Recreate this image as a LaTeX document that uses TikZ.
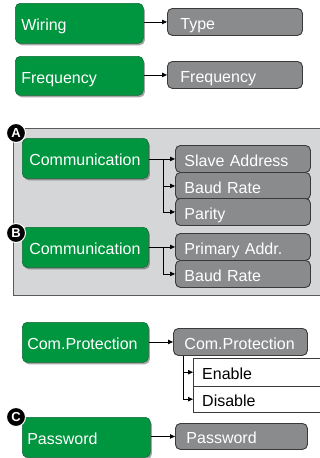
\documentclass[tikz,border=0pt]{standalone}
\usepackage{fontspec}
\setmainfont{Liberation Sans}
\usetikzlibrary{shadows,arrows.meta}
\definecolor{grn}{HTML}{00963F}
\definecolor{grnd}{HTML}{0B6A33}
\definecolor{gbx}{HTML}{8A8B8D}
\definecolor{gbd}{HTML}{3A3A3A}
\definecolor{pnl}{HTML}{D5D6D8}
\definecolor{pnlb}{HTML}{5A5A5A}
\tikzset{
  base/.style={anchor=north west, inner ysep=0pt, align=left, text height=15pt, text depth=0pt,
    font=\fontsize{16}{18}\selectfont},
  gbox/.style={base, rounded corners=5pt, fill=grn, draw=grnd, line width=0.6pt, text=white,
    drop shadow={shadow xshift=1.5pt, shadow yshift=-2pt, opacity=0.35, fill=black}},
  ybox/.style={base, rounded corners=5pt, fill=gbx, draw=gbd, line width=0.9pt, text=white},
  wbox/.style={base, fill=white, text=black},
  badge/.style={circle, fill=black, draw=white, line width=1pt, minimum size=19pt, inner sep=0pt,
    text=white, font=\fontsize{13}{13}\bfseries\selectfont},
  arr/.style={line width=0.8pt, -{Triangle[length=5pt,width=4.5pt]}},
  ln/.style={line width=0.8pt},
}
\begin{document}
\begin{tikzpicture}[x=1pt,y=-1pt]
\useasboundingbox (0,0) rectangle (320,458);
% panel
\fill[pnl] (13,128) rectangle (320,295);
\draw[pnlb, line width=0.9pt] (320,128) -- (13,128) -- (13,295) -- (320,295);

% Wiring / Type
\node[gbox, minimum height=40pt, text width=116pt, inner xsep=6pt] (wiring) at (15,3) {Wiring};
\node[ybox, minimum height=27pt, text width=109pt, inner xsep=13pt] (type) at (167,8) {Type};
\draw[arr] (wiring.east |- type.west) -- (type.west);

% Frequency
\node[gbox, minimum height=39pt, text width=116pt, inner xsep=6pt] (freqg) at (15,56) {Frequency};
\node[ybox, minimum height=27pt, text width=109pt, inner xsep=13pt] (freqy) at (167,61) {Frequency};
\draw[arr] (freqg.east |- freqy.west) -- (freqy.west);

% Communication A
\node[gbox, minimum height=40pt, text width=112pt, inner xsep=7pt] (comma) at (22,138) {Communication};
\node[ybox, minimum height=27pt, text width=117pt, inner xsep=9pt] (slave) at (175,145) {Slave Address};
\node[ybox, minimum height=27pt, text width=117pt, inner xsep=9pt] (bauda) at (175,172) {Baud Rate};
\node[ybox, minimum height=27pt, text width=117pt, inner xsep=9pt] (parity) at (175,198) {Parity};
\coordinate (bra) at ([xshift=-12pt]slave.west);
\draw[arr] (comma.east |- slave.west) -- (slave.west);
\draw[ln] (bra) -- (bra |- parity.west);
\draw[arr] (bra |- bauda.west) -- (bauda.west);
\draw[arr] (bra |- parity.west) -- (parity.west);
\node[badge] (A) at (16,133) {A};

% Communication B
\node[gbox, minimum height=40pt, text width=112pt, inner xsep=7pt] (commb) at (22,227) {Communication};
\node[ybox, minimum height=27pt, text width=117pt, inner xsep=9pt] (primary) at (175,233) {Primary Addr.};
\node[ybox, minimum height=27pt, text width=117pt, inner xsep=9pt] (baudb) at (175,260) {Baud Rate};
\coordinate (brb) at ([xshift=-12pt]primary.west);
\draw[arr] (commb.east |- primary.west) -- (primary.west);
\draw[ln] (brb) -- (brb |- baudb.west);
\draw[arr] (brb |- baudb.west) -- (baudb.west);
\node[badge] (B) at (16,233) {B};

% Com.Protection
\node[gbox, minimum height=40pt, text width=116pt, inner xsep=5pt] (cpg) at (22,322) {Com.Protection};
\node[ybox, minimum height=27pt, text width=112pt, inner xsep=11pt] (cpy) at (173,328) {Com.Protection};
\draw[arr] (cpg.east |- cpy.west) -- (cpy.west);
\node[wbox, minimum height=28pt, text width=109pt, inner xsep=9pt] (enable) at (193,358) {Enable};
\node[wbox, minimum height=26pt, text width=109pt, inner xsep=9pt] (disable) at (193,386) {Disable};
\draw[gbd, line width=0.9pt] (enable.north east) -- (enable.north west) -- (disable.south west) -- (disable.south east);
\draw[gbd, line width=0.9pt] (enable.south west) -- (enable.south east);
\coordinate (brc) at ([xshift=10pt]cpy.south west);
\draw[ln] (brc) -- (brc |- disable.west);
\draw[arr] (brc |- enable.west) -- (enable.west);
\draw[arr] (brc |- disable.west) -- (disable.west);

% Password
\node[gbox, minimum height=40pt, text width=118pt, inner xsep=5pt] (pwg) at (22,417) {Password};
\node[ybox, minimum height=26pt, text width=110pt, inner xsep=11pt] (pwy) at (175,423) {Password};
\draw[arr] (pwg.east |- pwy.west) -- (pwy.west);
\node[badge] (C) at (16,417) {C};
\end{tikzpicture}
\end{document}
